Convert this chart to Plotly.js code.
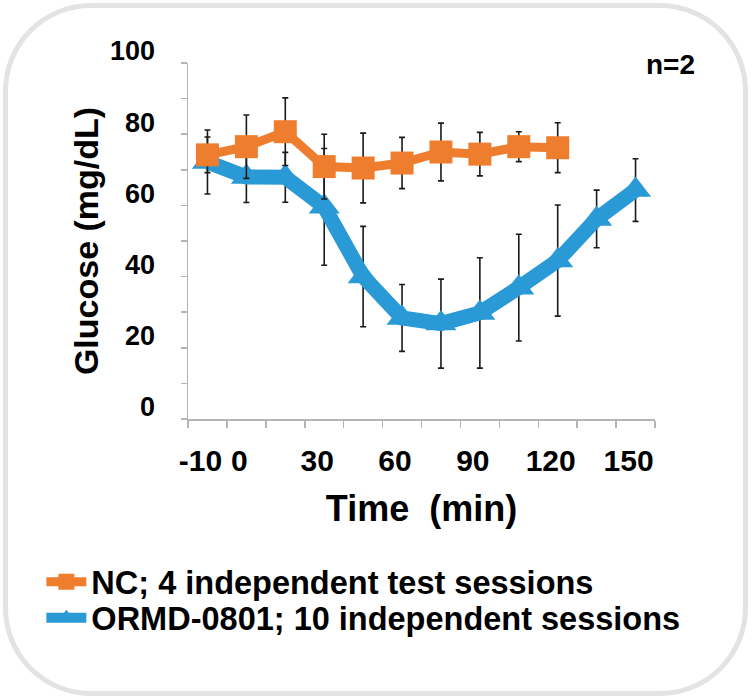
<!DOCTYPE html>
<html>
<head>
<meta charset="utf-8">
<script src="https://cdn.plot.ly/plotly-3.0.1.min.js"></script>
<style>
  html, body { margin: 0; padding: 0; background: #ffffff; }
  #wrap { position: relative; width: 752px; height: 698px; }
  #frame { position: absolute; left: 3px; top: 3px; width: 735px; height: 683px;
           border: 5px solid #e3e3e3; border-radius: 88px; pointer-events: none; }
  #chart { position: absolute; left: 0; top: 0; width: 752px; height: 698px; }
</style>
</head>
<body>
<div id="wrap">
  <div id="frame"></div>
  <div id="chart"></div>
</div>
<script>
// Time points (categories, min)
const timeCategories = ["-10", "0", "15", "30", "45", "60", "75", "90", "105", "120", "135", "150"];
const timeNC = ["-10", "0", "15", "30", "45", "60", "75", "90", "105", "120"];

// NC; 4 independent test sessions
const ncGlucose = [74.2, 76.5, 80.7, 70.9, 70.5, 71.9, 75.0, 74.4, 76.5, 76.2];
const ncError   = [5.0, 8.9, 9.5, 9.1, 9.8, 7.2, 8.1, 6.1, 4.2, 7.0];

// ORMD-0801; 10 independent sessions
const ormdGlucose = [72.2, 68.0, 67.9, 59.6, 40.0, 28.4, 26.8, 29.8, 36.9, 44.5, 56.2, 64.3];
const ormdError   = [9.0, 7.2, 7.0, 16.4, 14.1, 9.4, 12.5, 15.5, 15.0, 15.6, 8.1, 8.8];

// Tick labels
const xTickText = ["-10", "0", "", "30", "", "60", "", "90", "", "120", "", "150"];
const yTickVals = [0, 10, 20, 30, 40, 50, 60, 70, 80, 90, 100];
const yTickText = ["0", "", "20", "", "40", "", "60", "", "80", "", "100"];

const FONT = "Liberation Sans, Arial, Helvetica, sans-serif";

const traceORMD = {
  x: timeCategories, y: ormdGlucose, type: "scatter", mode: "lines+markers",
  name: "ORMD-0801; 10 independent sessions",
  line: { color: "#2a9ad6", width: 15 },
  marker: { symbol: "triangle-up", size: 27, color: "#2a9ad6" },
  error_y: { type: "data", array: ormdError, visible: true, color: "#1a1a1a", thickness: 1.6, width: 3 },
  legend: "legend2"
};
const traceNC = {
  x: timeNC, y: ncGlucose, type: "scatter", mode: "lines+markers",
  name: "NC; 4 independent test sessions",
  line: { color: "#ef7d2e", width: 9 },
  marker: { symbol: "square", size: 23, color: "#ef7d2e" },
  error_y: { type: "data", array: ncError, visible: true, color: "#1a1a1a", thickness: 1.6, width: 3 },
  legend: "legend"
};

function legendAt(yMid) {
  return {
    orientation: "h",
    xref: "container", yref: "container", x: 0.055, y: yMid,
    xanchor: "left", yanchor: "middle",
    font: { family: FONT, size: 32.5, color: "#000000", weight: "bold" },
    bgcolor: "rgba(0,0,0,0)", itemwidth: 40
  };
}

const layout = {
  width: 752, height: 698,
  paper_bgcolor: "rgba(0,0,0,0)", plot_bgcolor: "rgba(0,0,0,0)",
  margin: { l: 188, r: 97, t: 63, b: 279, pad: 0 },
  font: { family: FONT, color: "#000000", weight: "bold" },
  showlegend: true,
  legend: legendAt(1 - 582 / 698),
  legend2: legendAt(1 - 618 / 698),
  xaxis: {
    type: "category", categoryorder: "array", categoryarray: timeCategories,
    range: [-0.5, 11.5], autorange: false,
    tickmode: "array", tickvals: timeCategories, ticktext: xTickText,
    tickson: "boundaries", tickangle: 0,
    ticks: "outside", ticklen: 7, tickcolor: "#b5b5b5", tickwidth: 1.5,
    showline: true, linecolor: "#b5b5b5", linewidth: 1.5,
    showgrid: false, zeroline: false,
    tickfont: { family: FONT, size: 30, color: "#000000", weight: "bold" },
    ticklabelstandoff: 14, ticklabelshift: -7,
    title: { text: "Time \u00a0(min)", font: { family: FONT, size: 36, color: "#000000", weight: "bold" }, standoff: 20 },
    automargin: false, fixedrange: true
  },
  yaxis: {
    range: [0, 100], autorange: false,
    tickmode: "array", tickvals: yTickVals, ticktext: yTickText,
    ticks: "outside", ticklen: 6, tickcolor: "#b5b5b5", tickwidth: 1.5,
    showline: true, linecolor: "#b5b5b5", linewidth: 1.5,
    showgrid: false, zeroline: false,
    tickfont: { family: FONT, size: 27, color: "#000000", weight: "bold" },
    ticklabelstandoff: 20, ticklabelshift: -12,
    title: { text: "Glucose (mg/dL)", font: { family: FONT, size: 34, color: "#000000", weight: "bold" }, standoff: 1 },
    automargin: false, fixedrange: true
  },
  annotations: [{
    text: "n=2", xref: "paper", yref: "paper", x: 1.09, y: 0.995,
    xanchor: "right", yanchor: "middle", showarrow: false,
    font: { family: FONT, size: 28, color: "#000000", weight: "bold" }
  }]
};

Plotly.newPlot("chart", [traceORMD, traceNC], layout, { staticPlot: true, displayModeBar: false });
</script>
</body>
</html>
